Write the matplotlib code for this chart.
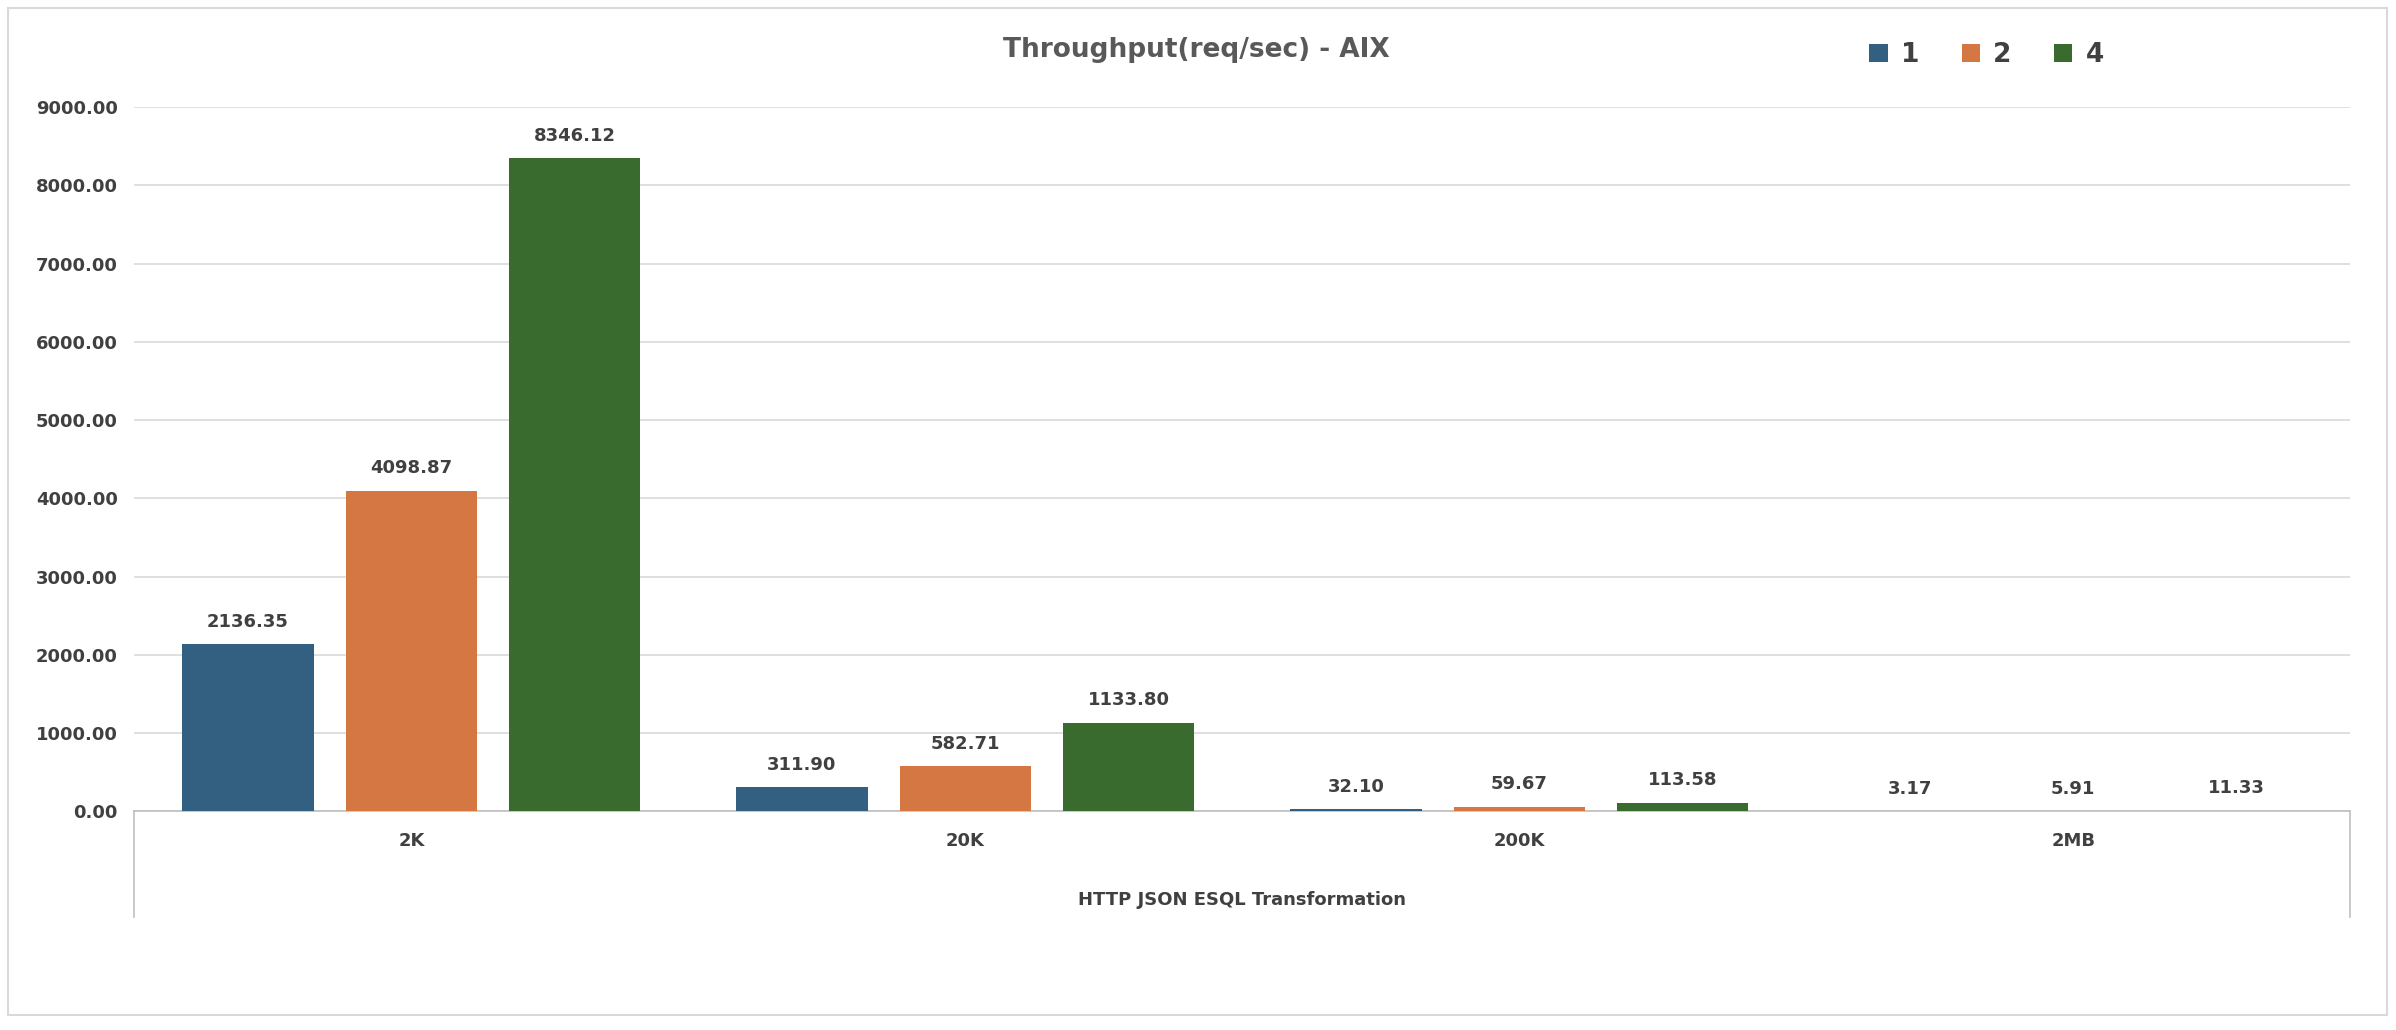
import numpy as np
import matplotlib.pyplot as plt
from matplotlib.lines import Line2D
from matplotlib.patches import Rectangle

categories = ['2K', '20K', '200K', '2MB']
series_names = ['1', '2', '4']
vals_1 = [2136.35, 311.90, 32.10, 3.17]
vals_2 = [4098.87, 582.71, 59.67, 5.91]
vals_4 = [8346.12, 1133.80, 113.58, 11.33]
colors = ['#335F80', '#D57742', '#3A6B2E']
txt = '#404040'

W, H = 2396, 1030
fig = plt.figure(figsize=(W / 100, H / 100), dpi=100)
fig.patches.append(Rectangle((5 / 1568, 1 - 664 / 674), 1557 / 1568, 659 / 674,
                             transform=fig.transFigure, fill=False,
                             edgecolor='#D9D9D9', linewidth=1.5))

left, right = 88 / 1568, 1538 / 1568
bottom, top = 1 - 531 / 674, 1 - 70 / 674
ax = fig.add_axes([left, bottom, right - left, top - bottom])

x = np.arange(len(categories)) + 0.5
offs = [-0.295, 0, 0.295]
for vals, off, c, name in zip([vals_1, vals_2, vals_4], offs, colors, series_names):
    bars = ax.bar(x + off, vals, 0.237, color=c, label=name, zorder=3)
    for b, v in zip(bars, vals):
        ax.text(b.get_x() + b.get_width() / 2, v + 170, f'{v:.2f}',
                ha='center', va='bottom', fontsize=13, fontweight='bold', color=txt)

ax.set_xlim(0, 4)
ax.set_ylim(0, 9000)
ax.set_yticks(np.arange(0, 9001, 1000))
ax.set_yticklabels([f'{v:.2f}' for v in np.arange(0, 9001, 1000)],
                   fontsize=13, fontweight='bold', color=txt)
ax.yaxis.grid(True, color='#D9D9D9', linewidth=1.2, zorder=0)
ax.tick_params(axis='y', length=0, pad=12)
ax.set_xticks([])
for s in ['top', 'right', 'left']:
    ax.spines[s].set_visible(False)
ax.spines['bottom'].set_color('#BFBFBF')
ax.spines['bottom'].set_linewidth(1.2)

# category axis frame
yb = 1 - 600 / 674
for xx in (left, right):
    fig.add_artist(Line2D([xx, xx], [bottom, yb], transform=fig.transFigure,
                          color='#BFBFBF', linewidth=1.2))
for xc, cat in zip(x, categories):
    fig.text(left + (right - left) * xc / 4, 1 - 550 / 674, cat, ha='center', va='center',
             fontsize=13, fontweight='bold', color=txt)
fig.text((left + right) / 2, 1 - 589 / 674, 'HTTP JSON ESQL Transformation',
         ha='center', va='center', fontsize=13, fontweight='bold', color=txt)

fig.text(783 / 1568, 1 - 33 / 674, 'Throughput(req/sec) - AIX', ha='center', va='center',
         fontsize=19, fontweight='bold', color='#595959')

leg = fig.legend(loc='center', bbox_to_anchor=(1300 / 1568, 1 - 36 / 674), ncol=3,
                 frameon=False, prop={'size': 19, 'weight': 'bold'},
                 handlelength=0.7, handleheight=0.7, columnspacing=1.6, handletextpad=0.5)
for t in leg.get_texts():
    t.set_color(txt)

fig.savefig('out.png', dpi=100)
